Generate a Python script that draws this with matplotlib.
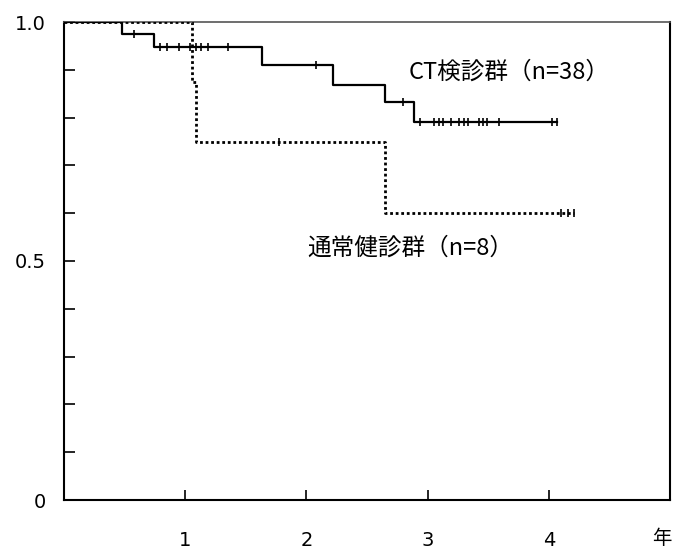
import matplotlib
matplotlib.use("Agg")
import matplotlib.pyplot as plt
import numpy as np

plt.rcParams['font.family'] = ['Noto Sans CJK JP', 'DejaVu Sans']

# CT screening group (n=38): event times and survival after each event
ct_times = [0.48, 0.74, 1.63, 2.22, 2.65, 2.89]
ct_surv = [0.974, 0.947, 0.910, 0.868, 0.833, 0.791]
ct_end = 4.07
ct_censor = [0.58, 0.79, 0.85, 0.95, 1.04, 1.09, 1.13, 1.19, 1.35, 2.08, 2.80,
             2.94, 3.05, 3.09, 3.13, 3.19, 3.26, 3.30, 3.33, 3.42, 3.46, 3.49,
             3.59, 4.03, 4.07]

# Ordinary screening group (n=8)
og_times = [1.06, 1.09, 2.65]
og_surv = [0.875, 0.75, 0.60]
og_end = 4.21
og_censor = [1.77, 4.10, 4.16, 4.21]

ct_label = "CT検診群（n=38）"
og_label = "通常健診群（n=8）"
x_ticks = [1, 2, 3, 4]
y_labels = {0: "0", 0.5: "0.5", 1.0: "1.0"}


def step_xy(times, surv, end):
    xs = [0.0]
    ys = [1.0]
    for t, s in zip(times, surv):
        xs.append(t)
        ys.append(s)
    xs.append(end)
    ys.append(surv[-1])
    return xs, ys


def surv_at(times, surv, t):
    s = 1.0
    for tt, ss in zip(times, surv):
        if tt <= t:
            s = ss
    return s


fig = plt.figure(figsize=(6.79, 5.52), dpi=100)
ax = fig.add_axes([64 / 679, 52 / 552, 606 / 679, 478 / 552])

x1, y1 = step_xy(ct_times, ct_surv, ct_end)
ax.step(x1, y1, where='post', color='black', lw=1.6, zorder=3)
ax.plot(ct_censor, [surv_at(ct_times, ct_surv, t) for t in ct_censor],
        linestyle='none', marker='|', color='black', ms=6, mew=1.2, zorder=4)

x2, y2 = step_xy(og_times, og_surv, og_end)
ax.step(x2, y2, where='post', color='black', lw=2.0,
        linestyle=(0, (1.0, 1.0)), zorder=3)
ax.plot(og_censor, [surv_at(og_times, og_surv, t) for t in og_censor],
        linestyle='none', marker='|', color='black', ms=6, mew=1.2, zorder=4)

ax.text(2.84, 0.895, ct_label, fontsize=17, va='center', ha='left')
ax.text(2.01, 0.527, og_label, fontsize=17, va='center', ha='left')

ax.set_xlim(0, 5)
ax.set_ylim(0, 1.0)
ax.set_xticks(x_ticks)
ax.set_xticklabels([str(v) for v in x_ticks], family='DejaVu Sans')
yt = np.arange(0, 1.01, 0.1)
ax.set_yticks(yt)
ax.set_yticklabels([y_labels.get(round(v, 1), "") for v in yt], family='DejaVu Sans')
ax.tick_params(axis='x', direction='in', length=7, width=1.2, pad=22, labelsize=14)
ax.tick_params(axis='y', direction='in', length=8, width=1.2, pad=13, labelsize=14)

for side in ['left', 'bottom', 'right']:
    ax.spines[side].set_linewidth(1.5)
    ax.spines[side].set_color('black')
ax.spines['top'].set_linewidth(1.2)
ax.spines['top'].set_color('#555555')

fig.text(652 / 679, 1 - 539 / 552, "年", fontsize=14, va='center', ha='left')

fig.savefig("out.png", dpi=100)
